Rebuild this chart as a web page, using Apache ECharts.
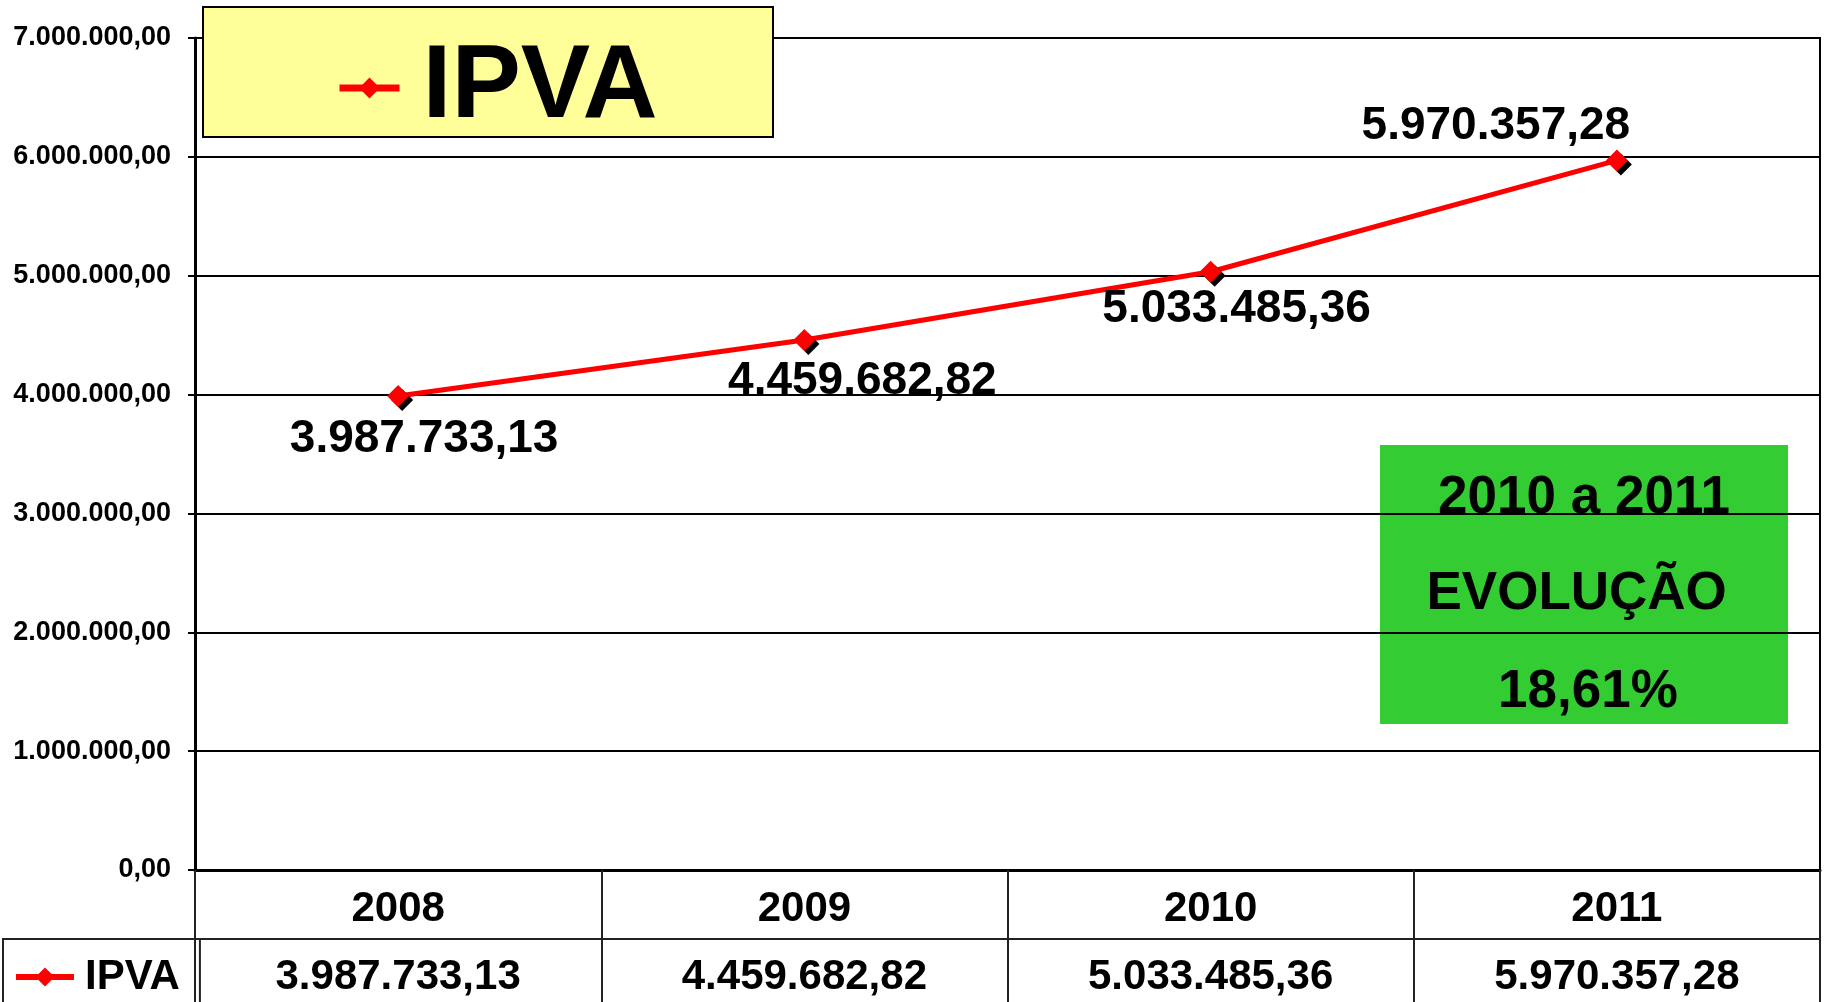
<!DOCTYPE html>
<html>
<head>
<meta charset="utf-8">
<script src="https://cdn.jsdelivr.net/npm/echarts@6/dist/echarts.min.js"></script>
<style>
html,body{margin:0;padding:0;background:#fff;}
#chart{width:1828px;height:1002px;}
</style>
</head>
<body>
<div id="chart"></div>
<script>
// ---- data ----
const categories = ['2008', '2009', '2010', '2011'];
const seriesName = 'IPVA';
const ipvaValues = [3987733.13, 4459682.82, 5033485.36, 5970357.28];
const yMin = 0, yMax = 7000000, yStep = 1000000;
const boxLines = ['2010 a 2011', 'EVOLUÇÃO '];

function fmtBR(v) {
  const parts = Number(v).toFixed(2).split('.');
  return parts[0].replace(/\B(?=(\d{3})+(?!\d))/g, '.') + ',' + parts[1];
}
const growth = (ipvaValues[3] / ipvaValues[2] - 1) * 100;
const growthText = growth.toFixed(2).replace('.', ',') + '%';

const FONT = '"Liberation Sans", Arial, Helvetica, sans-serif';
const chart = echarts.init(document.getElementById('chart'), null, {renderer: 'canvas'});

const labelOffsets = [[26, 43], [58, 41], [26, 38], [-121, -34]];

const option = {
  backgroundColor: '#fff',
  animation: false,
  textStyle: {fontFamily: FONT},
  grid: {left: 195, right: 8, top: 38, bottom: 132, show: true, borderColor: '#000', borderWidth: 2, backgroundColor: 'transparent'},
  legend: [
    {
      data: [seriesName], selectedMode: false,
      left: 336, top: 36, z: 10,
      padding: 0,
      itemWidth: 60, itemHeight: 26,
      lineStyle: {width: 7, color: '#FF0000'},
      itemStyle: {shadowColor: 'transparent', shadowOffsetX: 0, shadowOffsetY: 0},
      textStyle: {fontSize: 104, fontWeight: 'bold', color: '#000', fontFamily: FONT, padding: [0, 0, 0, 18]}
    },
    {
      data: [seriesName], selectedMode: false,
      left: 3, top: 939,
      padding: [17, 20, 40, 10],
      itemWidth: 58, itemHeight: 24,
      lineStyle: {width: 6, color: '#FF0000'},
      itemStyle: {shadowColor: 'transparent', shadowOffsetX: 0, shadowOffsetY: 0},
      borderColor: '#222', borderWidth: 2,
      textStyle: {fontSize: 42, fontWeight: 'bold', color: '#000', fontFamily: FONT, lineHeight: 42, padding: [0, 0, 0, 6]}
    }
  ],
  xAxis: [
    {
      type: 'category', data: categories, position: 'bottom', boundaryGap: true,
      axisLine: {show: true, lineStyle: {color: '#000', width: 3}},
      axisTick: {show: true, length: 69, interval: 0, alignWithLabel: false, lineStyle: {color: '#222', width: 2}},
      axisLabel: {fontSize: 42, fontWeight: 'bold', color: '#000', fontFamily: FONT, margin: 16, lineHeight: 46, interval: 0},
      splitLine: {show: false}
    },
    {
      type: 'category', data: ipvaValues.map(fmtBR), position: 'bottom', offset: 69, boundaryGap: true,
      axisLine: {show: true, lineStyle: {color: '#222', width: 2}},
      axisTick: {show: true, length: 70, interval: 0, alignWithLabel: false, lineStyle: {color: '#222', width: 2}},
      axisLabel: {fontSize: 42, fontWeight: 'bold', color: '#000', fontFamily: FONT, margin: 15, lineHeight: 46, interval: 0},
      splitLine: {show: false}
    }
  ],
  yAxis: {
    type: 'value', min: yMin, max: yMax, interval: yStep,
    axisLine: {show: true, lineStyle: {color: '#000', width: 3}},
    axisTick: {show: true, length: 7, lineStyle: {color: '#000', width: 2}},
    axisLabel: {fontSize: 27, fontWeight: 'bold', color: '#000', fontFamily: FONT, margin: 24, formatter: v => fmtBR(v)},
    splitLine: {show: true, lineStyle: {color: '#000', width: 2}}
  },
  series: [{
    type: 'line', name: seriesName, xAxisIndex: 0,
    data: ipvaValues.map((v, i) => ({value: v, label: {offset: labelOffsets[i]}})),
    symbol: 'diamond', symbolSize: 22,
    lineStyle: {color: '#FF0000', width: 5},
    itemStyle: {color: '#FF0000', shadowColor: '#000', shadowOffsetX: 4, shadowOffsetY: 4, shadowBlur: 0},
    label: {show: true, position: 'inside', formatter: p => fmtBR(p.value), fontSize: 46, fontWeight: 'bold', color: '#000', fontFamily: FONT, textBorderWidth: 0},
    emphasis: {disabled: true},
    z: 3
  }],
  graphic: [
    {
      type: 'rect', left: 202, top: 6, z: 5,
      shape: {width: 570, height: 130},
      style: {fill: '#FFFF99', stroke: '#000', lineWidth: 2}
    },
    {
      type: 'group', left: 1380, top: 445,
      children: [
        {type: 'rect', shape: {x: 0, y: 0, width: 408, height: 279}, style: {fill: '#33CC33'}},
        {type: 'text', x: 204, y: 53, style: {text: boxLines[0], font: 'bold 53px ' + FONT, fill: '#000', textAlign: 'center', textVerticalAlign: 'middle'}},
        {type: 'text', x: 204, y: 149, style: {text: boxLines[1], font: 'bold 53px ' + FONT, fill: '#000', textAlign: 'center', textVerticalAlign: 'middle'}},
        {type: 'text', x: 208, y: 247, style: {text: growthText, font: 'bold 53px ' + FONT, fill: '#000', textAlign: 'center', textVerticalAlign: 'middle'}}
      ]
    }
  ]
};
chart.setOption(option);
</script>
</body>
</html>
